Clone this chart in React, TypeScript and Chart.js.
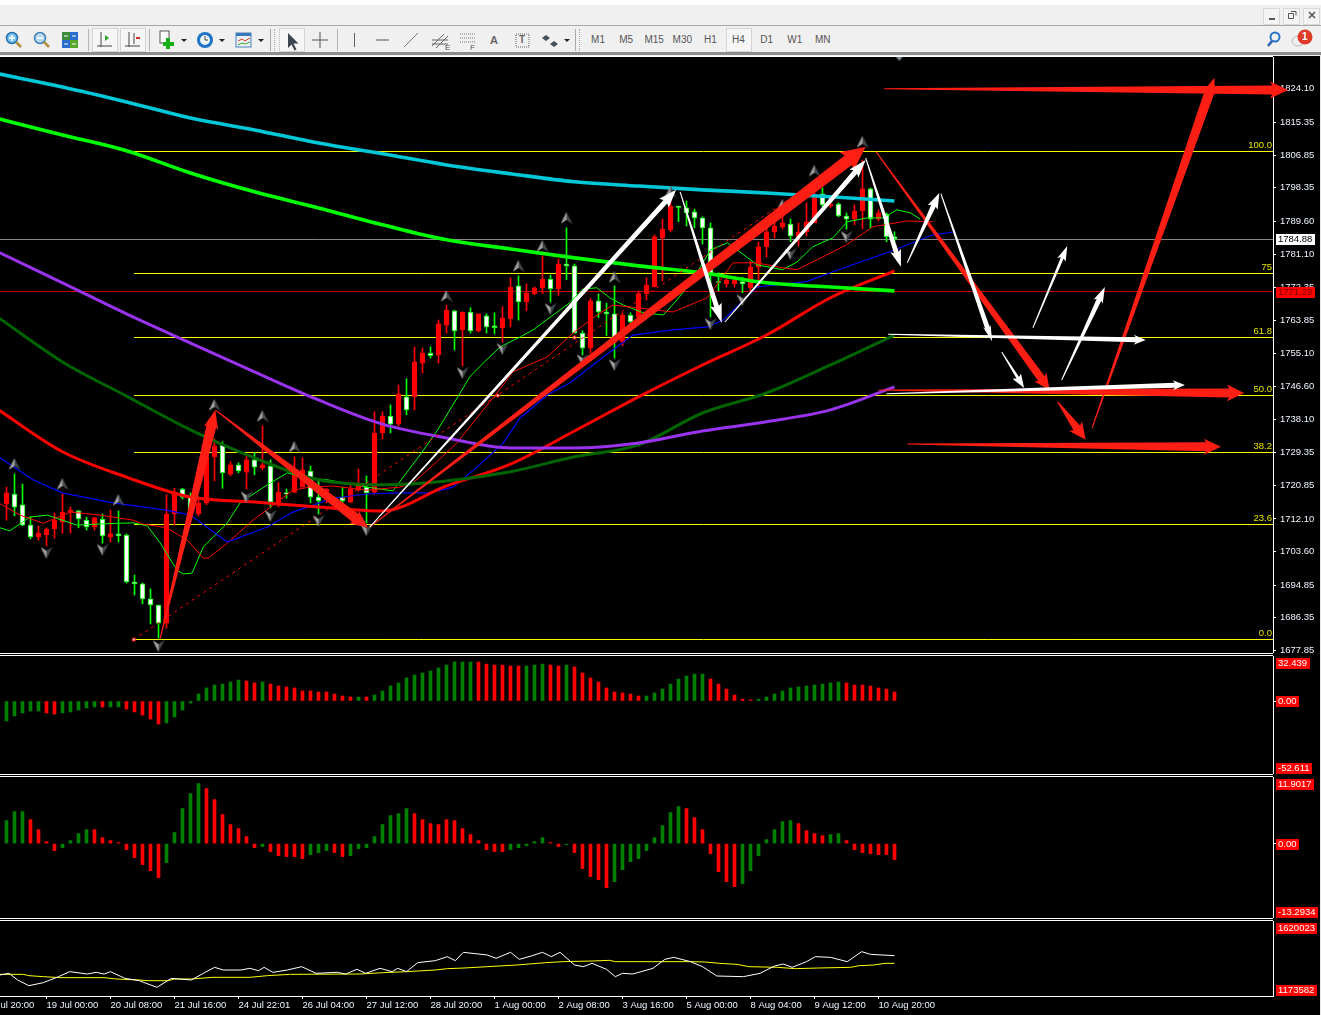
import React, { useEffect, useRef } from "react";
import { Chart, registerables } from "chart.js";

Chart.register(...registerables);

// ---------- candles (price) ----------
const candleOpen = [1716.0,1718.6,1715.8,1710.5,1707.4,1708.0,1709.5,1711.3,1713.9,1714.2,1711.8,1710.0,1712.1,1707.4,1708.2,1707.9,1695.7,1695.2,1691.3,1689.7,1685.0,1713.4,1719.9,1718.1,1713.4,1716.3,1728.3,1731.4,1723.8,1726.2,1724.3,1727.5,1725.4,1725.9,1716.3,1718.9,1719.1,1720.4,1724.6,1717.8,1717.0,1716.8,1717.8,1716.5,1719.6,1720.4,1719.1,1734.5,1738.9,1736.8,1743.9,1743.9,1752.7,1755.3,1754.8,1762.6,1766.3,1761.3,1766.0,1761.1,1765.0,1762.4,1761.9,1764.2,1772.8,1768.6,1770.8,1772.3,1774.6,1772.0,1778.5,1778.0,1760.5,1756.6,1768.9,1766.0,1765.5,1758.2,1765.2,1764.7,1770.8,1772.5,1785.3,1787.4,1793.5,1793.1,1792.1,1790.5,1787.9,1773.9,1773.3,1773.3,1773.9,1772.3,1777.7,1783.0,1786.9,1788.2,1788.9,1785.6,1786.9,1789.2,1796.8,1793.6,1794.1,1791.0,1790.2,1792.3,1798.1,1790.2,1791.5,1785.6];
const candleHigh = [1720.4,1723.8,1721.2,1712.6,1710.3,1709.8,1713.7,1718.6,1715.2,1714.4,1712.6,1712.6,1713.4,1714.4,1714.2,1708.2,1697.5,1695.4,1693.9,1689.7,1718.4,1720.1,1720.1,1718.9,1717.8,1729.6,1733.0,1732.2,1727.0,1726.7,1728.8,1729.3,1736.3,1727.5,1721.5,1719.9,1728.3,1728.0,1725.9,1722.2,1720.1,1717.8,1720.4,1721.0,1725.1,1723.3,1740.0,1740.0,1741.8,1747.0,1748.6,1756.9,1756.6,1756.9,1763.9,1767.8,1766.5,1766.0,1767.1,1765.5,1765.5,1765.8,1767.4,1774.9,1775.4,1773.3,1772.5,1780.6,1775.6,1779.8,1787.9,1778.5,1761.1,1769.6,1770.7,1768.3,1772.8,1765.8,1765.8,1771.5,1774.9,1786.1,1790.2,1797.3,1793.6,1794.9,1792.8,1790.8,1789.2,1776.2,1775.1,1775.1,1775.1,1779.2,1784.2,1788.2,1790.5,1790.8,1790.2,1789.2,1794.4,1797.8,1798.3,1796.0,1794.4,1791.8,1793.9,1805.6,1798.3,1792.6,1791.8,1786.9];
const candleLow = [1711.8,1712.9,1710.3,1706.9,1706.6,1705.1,1707.1,1708.4,1708.4,1709.8,1709.2,1709.2,1705.8,1706.1,1706.1,1695.4,1692.3,1690.0,1684.8,1681.1,1683.7,1710.5,1717.3,1714.4,1712.9,1715.8,1722.0,1720.1,1723.3,1724.1,1719.9,1723.6,1724.9,1715.0,1715.2,1717.5,1718.9,1720.4,1716.3,1713.4,1716.3,1716.5,1716.3,1716.3,1719.4,1711.1,1718.6,1732.9,1734.5,1736.3,1739.2,1740.5,1750.1,1754.0,1752.7,1760.5,1756.1,1752.0,1760.5,1760.8,1760.5,1760.3,1758.2,1762.1,1763.9,1766.3,1770.5,1770.8,1768.6,1770.3,1774.4,1760.5,1754.8,1755.3,1764.5,1759.8,1754.0,1757.2,1762.6,1763.4,1769.1,1772.5,1774.1,1786.9,1789.5,1788.4,1787.9,1783.7,1764.7,1771.5,1772.5,1772.5,1771.0,1771.3,1772.5,1780.3,1785.3,1787.6,1784.3,1783.2,1785.8,1789.2,1793.4,1793.1,1790.8,1787.6,1788.7,1787.6,1787.9,1789.7,1784.3,1784.3];
const candleClose = [1718.9,1715.2,1710.5,1707.4,1708.4,1709.5,1711.8,1713.9,1714.4,1712.1,1710.0,1712.4,1707.7,1708.2,1707.7,1695.7,1695.2,1691.3,1689.7,1685.0,1713.4,1719.1,1717.8,1714.4,1716.3,1728.3,1731.1,1724.1,1726.2,1724.6,1727.5,1725.6,1726.2,1716.5,1719.1,1718.6,1724.1,1724.9,1717.8,1716.8,1719.9,1717.5,1716.8,1719.9,1720.7,1718.9,1734.5,1738.9,1736.8,1744.7,1740.5,1753.0,1755.3,1754.6,1762.9,1766.5,1761.1,1766.0,1761.1,1765.5,1762.1,1761.9,1764.5,1772.5,1768.6,1771.0,1772.3,1774.6,1772.0,1778.5,1778.0,1760.5,1756.6,1768.9,1766.0,1765.5,1759.3,1765.2,1763.4,1770.8,1773.0,1785.6,1787.6,1793.6,1793.2,1791.8,1790.5,1787.9,1775.9,1773.7,1774.4,1774.4,1773.3,1777.7,1783.0,1786.9,1788.4,1789.2,1785.8,1786.9,1789.5,1796.5,1793.9,1794.1,1791.0,1790.2,1792.3,1798.1,1790.2,1791.8,1785.6,1785.1];

// ---------- slow moving averages, read every 8 bars ----------
const slowBars = [-1,7,15,23,31,39,47,55,63,71,79,87,95,103,111];
const cyanMA = [1828.0,1824.6,1820.7,1816.5,1813.4,1810.0,1807.2,1804.3,1802.0,1799.9,1798.8,1797.8,1797.0,1796.0,1794.9];
const limeMA = [1816.3,1812.1,1808.0,1802.2,1797.3,1793.1,1788.7,1784.8,1782.4,1780.1,1778.0,1776.2,1773.6,1772.5,1771.5];
const purpleMA = [1781.6,1773.6,1765.5,1757.9,1750.4,1743.1,1736.8,1733.2,1730.6,1730.6,1731.9,1735.0,1737.4,1740.5,1746.5];
const darkGreenMA = [1764.5,1753.0,1744.1,1735.3,1728.0,1722.3,1721.0,1722.0,1724.4,1728.3,1731.4,1739.7,1744.9,1752.2,1760.0];
const redMA = [1740.5,1729.6,1723.0,1717.8,1716.5,1715.2,1714.2,1720.7,1726.4,1735.0,1743.9,1752.2,1760.0,1769.7,1776.7];

// ---------- fast moving averages ----------
const blueBars = [-1,3.3,7,13.3,20,23,27.6,32.6,35.8,40.8,45,49,52.9,55.8,58.8,62.1,64.2,67.6,70.4,74.6,78.3,83,87.6,89.6,93.8,100,104,110.4,115.8,118.6];
const blueMA = [1728.3,1722.3,1718.9,1716.3,1714.4,1713.1,1706.1,1710.0,1713.9,1717.5,1718.6,1718.9,1718.9,1720.4,1725.6,1731.9,1738.4,1744.4,1747.5,1754.3,1760.0,1761.3,1762.1,1763.9,1772.5,1773.9,1777.0,1781.7,1786.1,1786.9];
const thinRedBars = [-1,1.7,4.6,8,11.7,15.8,17,20,22.6,24.6,25.2,27.6,30.8,33,35.8,37.9,40.8,45,49.2,50.8,53.8,56.3,59.6,61.3,63.3,67.6,70.8,73.8,75.8,78.8,83.3,87.6,90.8,93.8,97,98.8,102,105,108.3,112.6,115.8];
const thinRedMA = [1716.3,1713.1,1711.0,1713.9,1713.1,1711.8,1710.8,1709.8,1706.6,1701.9,1701.9,1705.8,1711.8,1715.2,1719.6,1720.4,1720.7,1719.6,1720.4,1721.5,1727.0,1731.9,1740.5,1744.9,1750.4,1754.3,1760.5,1765.2,1767.8,1767.1,1766.0,1769.7,1778.8,1778.8,1777.5,1777.0,1780.3,1783.5,1788.2,1789.7,1789.5];
const thinGreenBars = [-0.8,0.4,2.9,5.1,8.8,11.7,15.8,17.6,19.2,21.3,22.1,23.2,24.6,27.6,29.2,32.6,35.1,37.6,40.1,45.1,48.3,51.7,53.9,56.7,57.9,59.6,61.7,64.2,65.8,70.4,72.1,73.8,75.4,77.1,79.6,82.1,83.8,85.8,88,90.1,91.3,93.8,97,98.8,100.8,103.3,105.1,107.6,109.6,111.3,113,114.2];
const thinGreenMA = [1709.8,1709.0,1712.6,1713.1,1710.5,1710.8,1711.1,1710.3,1705.9,1698.8,1697.8,1698.0,1704.8,1711.1,1716.3,1721.0,1724.1,1722.8,1722.3,1720.4,1719.4,1728.8,1735.3,1744.9,1749.1,1752.7,1756.9,1759.5,1761.3,1768.4,1772.0,1772.3,1769.7,1767.8,1765.8,1765.2,1769.1,1774.4,1782.2,1784.0,1782.2,1778.3,1777.0,1779.0,1783.0,1785.3,1789.5,1790.5,1790.5,1792.6,1791.8,1790.2];

// ---------- price axis and levels ----------
const priceTicks = [1824.10,1815.35,1806.85,1798.35,1789.60,1781.10,1772.35,1763.85,1755.10,1746.60,1738.10,1729.35,1720.85,1712.10,1703.60,1694.85,1686.35,1677.85];
const fibNames = ["100.0","75","61.8","50.0","38.2","23.6","0.0"];
const fibPrices = [1807.792,1776.023,1759.357,1744.254,1729.411,1710.662,1680.716];
const bidPrice = 1784.88;
const askPrice = 1771.29;
const askLevel = 1771.335;
const trendBars = [15.9,106.7];
const trendPrices = [1680.7,1807.8];
const trendMarkBars = [15.9,61.4,71];
const trendMarkPrices = [1680.7,1744.25,1759.36];

// ---------- fractal markers ----------
const upFractalBars = [1,7,14,26,32,36,55,64,67,70,76,83,97,101,107];
const upFractalPrices = [1726.4,1721.2,1717.05,1741.8,1738.9,1730.9,1770.2,1778.0,1783.2,1790.5,1775.1,1797.3,1793.9,1802.8,1810.3];
const downFractalBars = [5,12,19,30,33,39,45,57,62,68,72,76,88,92,98,105,111.6];
const downFractalPrices = [1703.3,1704.1,1679.0,1717.8,1712.9,1711.6,1709.2,1750.1,1756.4,1766.8,1753.5,1752.2,1762.9,1769.1,1781.1,1785.6,1831.9];

// ---------- drawn arrows: tail and tip ----------
const redArrowFromBar = [19.2,26.1,45.4,108.7,131.4,135.7,109.7,109,112.6];
const redArrowFromPrice = [1680.85,1740.5,1710.0,1807.7,1742.6,1735.8,1824.1,1745.7,1731.6];
const redArrowToBar = [26.1,45.2,107.4,130.4,134.9,151,160.2,154.7,151.8];
const redArrowToPrice = [1740.5,1709.8,1809.0,1745.7,1732.7,1827,1823.8,1744.9,1730.9];
const whiteArrowFromBar = [45.4,84.2,89.8,107.4,112.6,116.8,124.4,128.3,131.9,110.2,110];
const whiteArrowFromPrice = [1710.0,1797.3,1763.4,1806.1,1778.8,1796.8,1755.6,1761.9,1748.3,1760.2,1744.7];
const whiteArrowToBar = [83.7,89.4,107.4,111.8,116.6,123.2,127.2,132.6,137.3,142.4,147.3];
const whiteArrowToPrice = [1797.8,1763.2,1805.6,1777.8,1797.0,1758.4,1746.2,1783.2,1772.5,1758.7,1747.0];

// ---------- histogram panes ----------
const histBars = Array.from({ length: candleOpen.length }, (_, i) => i);
const osmaValues = [-14.4,-10.8,-8.6,-7.2,-7.2,-8.6,-9.4,-8.6,-7.9,-6.5,-5.0,-4.3,-4.3,-4.3,-4.3,-5.8,-7.9,-10.1,-13.0,-16.6,-15.8,-11.5,-6.5,-1.4,5.0,9.4,11.5,12.2,13.7,15.1,14.4,13.0,13.7,12.2,10.8,10.1,9.4,7.2,7.2,6.5,6.5,5.0,3.6,2.9,2.9,2.9,4.3,7.2,10.8,13.0,16.6,18.7,20.2,21.6,23.8,25.9,28.1,28.1,28.1,28.1,26.6,25.9,25.9,25.2,25.2,25.2,25.9,26.6,25.9,25.2,25.9,24.5,20.2,16.6,13.7,9.4,6.5,5.8,5.0,3.6,3.6,5.8,8.6,12.2,15.8,18.0,19.4,19.4,15.8,12.2,8.6,4.3,1.4,0.7,1.4,2.9,5.0,7.2,9.4,10.1,10.8,11.5,12.2,13.0,13.7,13.0,11.5,11.5,10.8,9.4,8.6,6.5];
const osmaRuns = [["g",5],["r",2],["g",5],["r",1],["g",2],["r",5],["g",10],["r",2],["g",1],["r",11],["g",1],["r",1],["g",13],["r",6],["g",3],["r",2],["g",1],["r",9],["g",8],["r",6],["g",11],["r",7]] as [string, number][];
const accelValues = [4.11,5.72,5.72,4.29,2.50,0.36,-1.25,-0.72,0.54,1.79,2.50,2.50,1.07,0.54,0.18,-1.07,-2.50,-3.75,-4.83,-6.08,-3.40,1.97,6.26,8.94,10.73,9.83,7.87,5.19,3.40,2.68,1.25,-0.72,-0.54,-1.43,-2.15,-2.32,-2.32,-2.68,-1.97,-1.61,-1.25,-1.61,-2.32,-2.15,-0.89,-0.72,1.25,3.40,5.01,5.36,6.26,5.36,4.29,3.58,3.40,4.29,4.11,2.68,1.61,0.54,-1.07,-1.43,-1.43,-1.07,-0.72,-0.36,0.36,1.07,0.18,-0.54,-0.18,-1.61,-4.47,-5.90,-6.44,-7.87,-6.79,-4.65,-3.22,-2.68,-1.25,1.07,3.22,5.54,6.62,6.26,4.65,2.50,-1.79,-5.01,-6.79,-7.69,-7.15,-4.83,-2.15,0.72,2.50,3.93,4.11,3.58,2.32,1.79,1.43,1.61,1.79,0.54,-1.07,-1.61,-1.79,-1.97,-1.97,-2.86];
const accelRuns = [["g",3],["r",4],["g",4],["r",9],["g",5],["r",7],["g",1],["r",5],["g",3],["r",2],["g",8],["r",12],["g",5],["r",2],["g",1],["r",5],["g",9],["r",7],["g",7],["r",4],["g",2],["r",7]] as [string, number][];

// ---------- bottom pane ----------
const whiteFlowBars = [-0.8,0.3,1.4,2.8,4.6,6.5,7.9,10.1,11.2,12.2,13,14.8,16.6,18.8,20.6,23.1,24.6,26,27.1,29.3,30.4,31.5,32.2,33.3,35.1,36.9,38.7,41.3,42.4,43.8,44.9,46.7,48.2,48.9,50,51.4,53.6,55.1,56.1,57.1,60.1,61.2,63,64.1,65.6,67,68.1,69.2,71,72.1,73.2,75,76.1,77,78.3,80.8,82.3,83.4,85.5,87,88.8,92.1,94.2,96,97.1,98.2,100,101.1,103,105.1,106.9,108,111];
const whiteFlow = [1298600,1308500,1268800,1235100,1253000,1288700,1318400,1304500,1314500,1304500,1318400,1278700,1264800,1225200,1278700,1268800,1308500,1344200,1328300,1328300,1338300,1324400,1344200,1314500,1328300,1348200,1308500,1314500,1304500,1332300,1308500,1338300,1318400,1338300,1318400,1372000,1383900,1407700,1383900,1433500,1417600,1397800,1433500,1391800,1411700,1433500,1407700,1433500,1358100,1348200,1368000,1332300,1288700,1308500,1304500,1338300,1391800,1403700,1378000,1348200,1292600,1288700,1308500,1352200,1364100,1344200,1378000,1407700,1403700,1378000,1437500,1421600,1413700];
const yellowFlowBars = [-0.8,2.1,2.8,4.6,6.8,12.2,13.7,16.6,17.7,20.2,21,23.1,25.7,30.4,32.6,35.5,44.2,47.1,50,51.4,53.6,55.1,57.2,60.1,63.8,67.4,69.6,73.2,75.4,76.1,85.5,87.3,89.1,91.3,92.8,96.4,98.6,101.5,105.5,106.6,108.4,109.8,111];
const yellowFlow = [1302500,1302500,1294600,1288700,1282700,1282700,1274800,1268800,1264800,1264800,1274800,1274800,1284700,1284700,1294600,1302500,1304500,1312500,1318400,1322400,1328300,1336300,1340200,1348200,1358100,1372000,1378000,1381900,1385900,1378000,1378000,1376000,1368000,1362100,1348200,1344200,1336300,1340200,1344200,1354100,1358100,1368000,1368000];

// ---------- time axis ----------
const timeTickBars = [-3,5,13,21,29,37,45,53,61,69,77,85,93,101,109];
const timeTickLabels = ["18 Jul 20:00","19 Jul 00:00","20 Jul 08:00","21 Jul 16:00","24 Jul 22:01","26 Jul 04:00","27 Jul 12:00","28 Jul 20:00","1 Aug 00:00","2 Aug 08:00","3 Aug 16:00","5 Aug 00:00","8 Aug 04:00","9 Aug 12:00","10 Aug 20:00"];

// ---------- toolbar text ----------
const timeframes = ["M1","M5","M15","M30","H1","H4","D1","W1","MN"];

// ---------- styles (not data) ----------
const X_MIN = -0.8125;
const X_MAX = 158.3125;
const FONT = "'Liberation Sans', sans-serif";
const AXIS_FONT = { family: "'Liberation Sans', sans-serif", size: 9.5 };
const AXIS_TEXT = "#eef4ff";
const RED = "#ff0000";
const ARROW_RED = "#ff1e14";
const redArrowNeck = [10,10,12,8,8,10,9,9,9];
const redArrowHead = [15,16,23,15,16,13,17,17,16];
const redArrowLen = [17,16,22,14,15,15,16,15,15];
const whiteArrowNeck = [5,5,5,5,5,5,3,3,5,5,5];
const whiteArrowHead = [13,12,12,11,11,8,10,9,10,10,10];
const whiteArrowLen = [16,17,16,15,14,14,12,13,14,10,10];

const zip = (xs: number[], ys: number[]) => xs.map((x, i) => ({ x, y: ys[i] }));
const expandRuns = (runs: [string, number][]) =>
  runs.flatMap(([c, n]) => Array.from({ length: n }, () => (c === "g" ? "#008000" : RED)));

function markerCanvas(up: boolean, small = false) {
  const c = document.createElement("canvas");
  const s = small ? 10 : 12;
  c.width = s;
  c.height = s;
  const g = c.getContext("2d")!;
  if (small) {
    g.fillStyle = "#7f8a94";
    g.beginPath();
    g.moveTo(1, 2);
    g.lineTo(9, 2);
    g.lineTo(5, 7);
    g.fill();
    return c;
  }
  const t = up ? 0 : s;
  const b = up ? s : 0;
  const n = up ? s - 4 : 4;
  g.fillStyle = "#a0a0a0";
  g.beginPath();
  g.moveTo(s / 2, t);
  g.lineTo(0, b);
  g.lineTo(s / 2, n);
  g.fill();
  g.fillStyle = "#444a50";
  g.beginPath();
  g.moveTo(s / 2, t);
  g.lineTo(s, b);
  g.lineTo(s / 2, n);
  g.fill();
  return c;
}

function baseOptions(yMin: number, yMax: number, yTicks: number[], digits: number, showX = false): any {
  return {
    animation: false,
    responsive: false,
    devicePixelRatio: 1,
    layout: { padding: 0, autoPadding: false },
    events: [],
    plugins: { legend: { display: false }, tooltip: { enabled: false } },
    scales: {
      x: showX
        ? {
            type: "linear",
            min: X_MIN,
            max: X_MAX,
            offset: false,
            afterBuildTicks: (s: any) => {
              s.ticks = timeTickBars.map((value) => ({ value }));
            },
            afterFit: (s: any) => {
              s.height = 19;
              s.paddingLeft = 0;
              s.paddingRight = 0;
            },
            border: { display: true, color: "#fff" },
            grid: { display: true, drawOnChartArea: false, drawTicks: true, tickLength: 3, color: "#fff", offset: false },
            ticks: {
              autoSkip: false,
              maxRotation: 0,
              align: "start",
              padding: 1,
              color: AXIS_TEXT,
              font: AXIS_FONT,
              callback: (v: number) => timeTickLabels[timeTickBars.indexOf(v)],
            },
          }
        : { type: "linear", min: X_MIN, max: X_MAX, offset: false, display: false, grid: { offset: false } },
      y: {
        type: "linear",
        position: "right",
        min: yMin,
        max: yMax,
        afterBuildTicks: (s: any) => {
          s.ticks = yTicks.map((value) => ({ value }));
        },
        afterFit: (s: any) => {
          s.width = 48;
          s.paddingTop = 0;
          s.paddingBottom = 0;
        },
        border: { display: true, color: "#fff" },
        grid: { display: true, drawOnChartArea: false, drawTicks: true, tickLength: 3, color: "#fff" },
        ticks: {
          autoSkip: false,
          padding: 4,
          color: AXIS_TEXT,
          font: AXIS_FONT,
          callback: (v: number) => v.toFixed(digits),
        },
      },
    },
  };
}

function drawTag(ctx: CanvasRenderingContext2D, text: string, cy: number, bg: string, fg: string) {
  ctx.save();
  ctx.font = `9.5px ${FONT}`;
  const w = ctx.measureText(text).width;
  ctx.fillStyle = bg;
  ctx.fillRect(1276, Math.round(cy) - 5, Math.ceil(w) + 4, 11);
  ctx.fillStyle = fg;
  ctx.textBaseline = "middle";
  ctx.textAlign = "left";
  ctx.fillText(text, 1278, Math.round(cy) + 0.5);
  ctx.restore();
}

function drawArrow(
  ctx: CanvasRenderingContext2D,
  x0: number, y0: number, x1: number, y1: number,
  neck: number, head: number, len: number, color: string
) {
  const d = Math.hypot(x1 - x0, y1 - y0);
  const ux = (x1 - x0) / d;
  const uy = (y1 - y0) / d;
  const nx = -uy;
  const ny = ux;
  const bx = x1 - ux * len;
  const by = y1 - uy * len;
  ctx.fillStyle = color;
  ctx.beginPath();
  ctx.moveTo(x0 + (nx * 1) / 2, y0 + (ny * 1) / 2);
  ctx.lineTo(bx + (nx * neck) / 2, by + (ny * neck) / 2);
  ctx.lineTo(bx - ux * 2 + (nx * head) / 2, by - uy * 2 + (ny * head) / 2);
  ctx.lineTo(x1, y1);
  ctx.lineTo(bx - ux * 2 - (nx * head) / 2, by - uy * 2 - (ny * head) / 2);
  ctx.lineTo(bx - (nx * neck) / 2, by - (ny * neck) / 2);
  ctx.lineTo(x0 - (nx * 1) / 2, y0 - (ny * 1) / 2);
  ctx.closePath();
  ctx.fill();
}

const arrowPlugin = {
  id: "drawnArrows",
  afterDatasetsDraw(chart: any) {
    const { ctx, scales } = chart;
    const px = (b: number) => scales.x.getPixelForValue(b);
    const py = (p: number) => scales.y.getPixelForValue(p);
    ctx.save();
    redArrowFromBar.forEach((_, i) => {
      drawArrow(ctx, px(redArrowFromBar[i]), py(redArrowFromPrice[i]), px(redArrowToBar[i]), py(redArrowToPrice[i]), redArrowNeck[i], redArrowHead[i], redArrowLen[i], ARROW_RED);
    });
    whiteArrowFromBar.forEach((_, i) => {
      drawArrow(ctx, px(whiteArrowFromBar[i]), py(whiteArrowFromPrice[i]), px(whiteArrowToBar[i]), py(whiteArrowToPrice[i]), whiteArrowNeck[i], whiteArrowHead[i], whiteArrowLen[i], "#ffffff");
    });
    ctx.font = `9.5px ${FONT}`;
    ctx.fillStyle = "#e6e600";
    ctx.textAlign = "right";
    ctx.textBaseline = "bottom";
    fibNames.forEach((n, i) => ctx.fillText(n, 1272, py(fibPrices[i]) - 1));
    ctx.restore();
    drawTag(ctx, bidPrice.toFixed(2), py(bidPrice), "#ffffff", "#000000");
    drawTag(ctx, askPrice.toFixed(2), py(askPrice), RED, "#7a0000");
  },
};

const paneTagPlugin = (top: string, mid: string | null, bottom: string) => ({
  id: "paneTags",
  afterDraw(chart: any) {
    const { ctx, chartArea, scales } = chart;
    drawTag(ctx, top, chartArea.top + 6.5, RED, "#ffffff");
    if (mid) drawTag(ctx, mid, scales.y.getPixelForValue(0), RED, "#ffffff");
    drawTag(ctx, bottom, chartArea.bottom - 6.5, RED, "#ffffff");
  },
});

const line = (data: any[], color: string, width: number, order: number, extra: any = {}) => ({
  type: "line",
  data,
  borderColor: color,
  borderWidth: width,
  pointRadius: 0,
  tension: 0,
  fill: false,
  order,
  ...extra,
});

function histogramConfig(values: number[], runs: [string, number][], yMin: number, yMax: number, top: string, bottom: string) {
  const options = baseOptions(yMin, yMax, [0], 2);
  return {
    type: "bar",
    data: {
      datasets: [
        {
          type: "bar",
          data: zip(histBars, values),
          backgroundColor: expandRuns(runs),
          barThickness: 3,
          grouped: false,
          borderWidth: 0,
        },
      ],
    },
    options,
    plugins: [paneTagPlugin(top, "0.00", bottom)],
  };
}

function mainConfig() {
  const isUp = candleOpen.map((o, i) => candleClose[i] >= o);
  const wickColor = isUp.map((u) => (u ? RED : "#00ff00"));
  const bodyFill = isUp.map((u) => (u ? RED : "#ffffff"));
  const bodyEdge = isUp.map((u) => (u ? RED : "#00ff00"));
  const smooth = { cubicInterpolationMode: "monotone" };
  const fibSets = fibPrices.map((p) =>
    line([{ x: (134 - 6.5) / 8, y: p }, { x: X_MAX, y: p }], "#ffff00", 1, 30)
  );
  return {
    type: "bar",
    data: {
      datasets: [
        ...fibSets,
        line([{ x: X_MIN, y: bidPrice }, { x: X_MAX, y: bidPrice }], "#8a8a8a", 1, 30),
        line([{ x: X_MIN, y: askLevel }, { x: X_MAX, y: askLevel }], "#d00000", 1, 30),
        {
          type: "bar",
          data: histBars.map((x, i) => ({ x, y: [candleLow[i], candleHigh[i]] })),
          backgroundColor: wickColor,
          barThickness: 1,
          grouped: false,
          borderWidth: 0,
          order: 20,
        },
        {
          type: "bar",
          data: histBars.map((x, i) => ({ x, y: [candleOpen[i], candleClose[i]] })),
          backgroundColor: bodyFill,
          borderColor: bodyEdge,
          borderWidth: 1,
          borderSkipped: false,
          barThickness: 5,
          grouped: false,
          order: 19,
        },
        line(zip(thinGreenBars, thinGreenMA), "#00ff00", 1, 9),
        line(zip(thinRedBars, thinRedMA), "#ff0000", 1, 8),
        line(zip(blueBars, blueMA), "#0000ff", 1.2, 7),
        line(zip(slowBars, redMA), "#ff0000", 3, 6, smooth),
        line(zip(slowBars, darkGreenMA), "#006400", 3, 5, smooth),
        line(zip(slowBars, purpleMA), "#9933ee", 3, 4, smooth),
        line(zip(slowBars, limeMA), "#00ff00", 3.6, 3, smooth),
        line(zip(slowBars, cyanMA), "#00c8d8", 3.6, 2, smooth),
        line(zip(trendBars, trendPrices), "#ff0000", 1, 1, { borderDash: [3, 4] }),
        {
          type: "scatter",
          data: zip(upFractalBars, upFractalPrices),
          pointStyle: markerCanvas(true),
          pointRadius: 6,
          order: 0,
          showLine: false,
        },
        {
          type: "scatter",
          data: zip(downFractalBars.slice(0, -1), downFractalPrices.slice(0, -1)),
          pointStyle: markerCanvas(false),
          pointRadius: 6,
          order: 0,
          showLine: false,
        },
        {
          type: "scatter",
          data: zip(downFractalBars.slice(-1), downFractalPrices.slice(-1)),
          pointStyle: markerCanvas(false, true),
          pointRadius: 5,
          order: 0,
          showLine: false,
          clip: false,
        },
        {
          type: "scatter",
          data: zip(trendMarkBars, trendMarkPrices),
          pointStyle: "rect",
          pointRadius: 2,
          backgroundColor: "#ffffff",
          borderColor: "#ff0000",
          order: 0,
          showLine: false,
        },
      ],
    },
    options: baseOptions(1677.2, 1832.4, priceTicks, 2),
    plugins: [arrowPlugin],
  };
}

function flowConfig() {
  return {
    type: "line",
    data: {
      datasets: [
        line(zip(yellowFlowBars, yellowFlow), "#ffff00", 1, 2),
        line(zip(whiteFlowBars, whiteFlow), "#ffffff", 1, 1),
      ],
    },
    options: baseOptions(1173582, 1620023, [], 0, true),
    plugins: [paneTagPlugin("1620023", null, "1173582")],
  };
}

function Pane({ top, height, build }: { top: number; height: number; build: () => any }) {
  const ref = useRef<HTMLCanvasElement | null>(null);
  useEffect(() => {
    const chart = new Chart(ref.current!, build());
    return () => chart.destroy();
  }, []);
  return (
    <canvas
      ref={ref}
      width={1321}
      height={height}
      style={{ position: "absolute", left: 0, top, width: 1321, height }}
    />
  );
}

const Rule = ({ y, w = 1273, c = "#fff" }: { y: number; w?: number; c?: string }) => (
  <div style={{ position: "absolute", left: 0, top: y, width: w, height: 1, background: c }} />
);

const Sep = ({ x }: { x: number }) => (
  <div style={{ position: "absolute", left: x, top: 29, width: 1, height: 22, background: "#b4b4b4" }} />
);
const Grip = ({ x }: { x: number }) => (
  <div style={{ position: "absolute", left: x, top: 29, width: 3, height: 22, borderLeft: "1px solid #a8a8a8", borderRight: "1px dotted #a8a8a8" }} />
);
const Pressed = ({ x, w = 26 }: { x: number; w?: number }) => (
  <div style={{ position: "absolute", left: x, top: 28, width: w, height: 24, background: "#f6f6f6", border: "1px solid #d4d4d4", boxSizing: "border-box" }} />
);

function Toolbar() {
  const down = (x: number) => <path key={x} d={`M${x - 3} 39h6l-3 3z`} fill="#222" />;
  return (
    <div style={{ position: "absolute", left: 0, top: 0, width: 1321, height: 56, background: "#f0f0f0" }}>
      <div style={{ position: "absolute", left: 0, top: 0, width: 1321, height: 5, background: "#fff" }} />
      <div style={{ position: "absolute", left: 0, top: 25, width: 1321, height: 1, background: "#a8a8a8" }} />
      <div style={{ position: "absolute", left: 0, top: 52, width: 1321, height: 3, background: "#8c8c8c" }} />
      {[88, 149, 337].map((x) => <Sep key={x} x={x} />)}
      {[270, 575].map((x) => <Grip key={x} x={x} />)}
      <Pressed x={92} /><Pressed x={120} /><Pressed x={279} />
      <Pressed x={726} />
      <svg width={1321} height={56} style={{ position: "absolute", left: 0, top: 0 }}>
        {[1272, 1292, 1312].map((x) => (
          <rect key={x} x={x - 8.5} y={8.5} width={16} height={16} fill="#f4f4f4" stroke="#d8d8d8" />
        ))}
        <path d="M1269 18h6v2h-6z" fill="#555" />
        <path d="M1288.5 13.5h5v5h-5zM1291 11.5h5v4" fill="none" stroke="#555" />
        <path d="M1309 12l6 6M1315 12l-6 6" stroke="#555" strokeWidth={1.6} />
        <circle cx={12} cy={38} r={5.5} fill="#7ec4ee" stroke="#1f6fb0" strokeWidth={1.5} />
        <path d="M9 38h6M12 35v6" stroke="#fff" strokeWidth={1.5} />
        <path d="M16 42l5 5" stroke="#b09040" strokeWidth={2.5} />
        <circle cx={40} cy={38} r={5.5} fill="#b6d8f0" stroke="#3f80b8" strokeWidth={1.5} />
        <path d="M37 38h6" stroke="#fff" strokeWidth={1.5} />
        <path d="M44 42l5 5" stroke="#b09040" strokeWidth={2.5} />
        <rect x={62} y={32} width={8} height={8} fill="#3b8a3b" />
        <rect x={70} y={32} width={8} height={8} fill="#2a6fd0" />
        <rect x={62} y={40} width={8} height={8} fill="#2a6fd0" />
        <rect x={70} y={40} width={8} height={8} fill="#5aa82a" />
        <path d="M64 36h4M72 36h4M64 44h4M72 44h4" stroke="#fff" />
        <path d="M101 32v15M97 46h15" stroke="#444" />
        <path d="M105 35l4 3-4 3z" fill="#2aa02a" />
        <path d="M129 32v15M125 46h15" stroke="#444" />
        <path d="M134 33v11" stroke="#444" />
        <path d="M136 38h4" stroke="#d03020" strokeWidth={2} />
        <rect x={160} y={31} width={9} height={12} fill="#fff" stroke="#555" />
        <path d="M168 38v11M163 44h11" stroke="#16b016" strokeWidth={4} />
        {down(184)}
        <circle cx={205} cy={40} r={8} fill="#1d74c8" />
        <circle cx={205} cy={40} r={5} fill="#eef4f8" />
        <path d="M205 36v4h3" stroke="#444" fill="none" />
        {down(222)}
        <rect x={236} y={33} width={15} height={14} fill="#eef2f6" stroke="#4a80b8" />
        <rect x={236} y={33} width={15} height={3} fill="#3a78b8" />
        <path d="M238 41l4-2 3 2 5-3" stroke="#d04020" fill="none" />
        <path d="M238 45l4-2 3 1 5-2" stroke="#30a030" fill="none" />
        {down(261)}
        <path d="M288 33v15l3.5-3.5 3 6 2-1-3-6h5z" fill="#3c4650" />
        <path d="M320 32v16M312 40h16" stroke="#555" />
        <path d="M354.500 33v14" stroke="#666" />
        <path d="M376 40h13" stroke="#555" />
        <path d="M404 47l14-14" stroke="#777" />
        <path d="M432 46l12-12M436 48l12-12M432 40h16M432 44h16" stroke="#666" />
        <path d="M460 34h15M460 38h15M460 42h15" stroke="#777" strokeDasharray="1 1" />
        <rect x={516} y={34} width={13} height={13} fill="none" stroke="#666" strokeDasharray="1 1" />
        <path d="M546 35l4 3-4 3-4-3zM554 41l4 3-4 3-4-3z" fill="#44505c" />
        {down(567)}
        <circle cx={1275} cy={37} r={4.5} fill="none" stroke="#2a72c8" strokeWidth={2} />
        <path d="M1272 41l-4 5" stroke="#2a60b0" strokeWidth={2.5} />
        <ellipse cx={1298} cy={41} rx={6} ry={5} fill="#eee" stroke="#bbb" />
        <circle cx={1305} cy={37} r={7.5} fill="#e03a28" />
      </svg>
      {timeframes.map((t, i) => (
        <span key={t} style={{ position: "absolute", left: 584 + i * 28.1, top: 34, width: 28, textAlign: "center", font: `10px ${FONT}`, color: "#555" }}>{t}</span>
      ))}
      <span style={{ position: "absolute", left: 490, top: 34, font: `bold 11px ${FONT}`, color: "#666" }}>A</span>
      <span style={{ position: "absolute", left: 519, top: 34, font: `bold 10px ${FONT}`, color: "#666" }}>T</span>
      <span style={{ position: "absolute", left: 445, top: 43, font: `8px ${FONT}`, color: "#555" }}>E</span>
      <span style={{ position: "absolute", left: 470, top: 43, font: `8px ${FONT}`, color: "#555" }}>F</span>
      <span style={{ position: "absolute", left: 1302, top: 31, font: `bold 10px ${FONT}`, color: "#fff" }}>1</span>
    </div>
  );
}

export default function App() {
  return (
    <div style={{ position: "fixed", left: 0, top: 0, width: 1321, height: 1015, background: "#000", overflow: "hidden" }}>
      <Toolbar />
      <Pane top={57} height={596} build={mainConfig} />
      <Pane top={656} height={118} build={() => histogramConfig(osmaValues, osmaRuns, -52.611, 32.439, "32.439", "-52.611")} />
      <Pane top={777} height={141} build={() => histogramConfig(accelValues, accelRuns, -13.2934, 11.9017, "11.9017", "-13.2934")} />
      <Pane top={921} height={94} build={flowConfig} />
      <Rule y={56} />
      <Rule y={653} />
      <Rule y={655} />
      <Rule y={774} />
      <Rule y={776} />
      <Rule y={918} />
      <Rule y={920} />
      <Rule y={996} />
      <div style={{ position: "absolute", left: 1320, top: 55, width: 1, height: 960, background: "#e8e8e8" }} />
    </div>
  );
}
